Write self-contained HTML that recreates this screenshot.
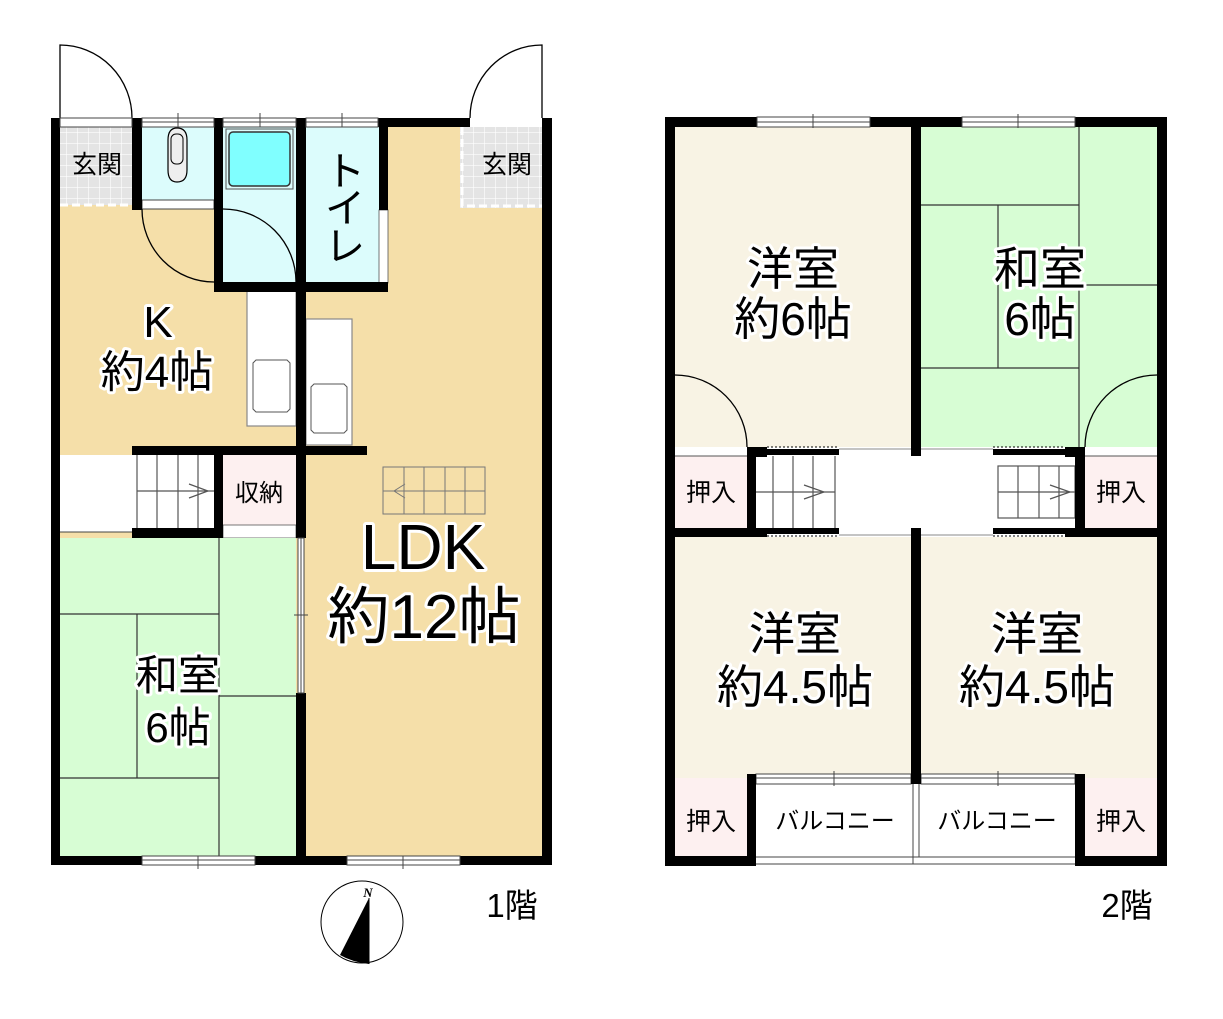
<!DOCTYPE html>
<html><head><meta charset="utf-8"><style>
html,body{margin:0;padding:0;background:#fff;}
svg{display:block;}
text{font-family:"Liberation Sans","Noto Sans CJK JP",sans-serif;fill:#000;text-anchor:middle;}
.h{paint-order:stroke;stroke:#fff;stroke-width:6px;stroke-linejoin:round;}
</style></head><body>
<svg width="1223" height="1019" viewBox="0 0 1223 1019" xmlns="http://www.w3.org/2000/svg">
<defs>
<pattern id="tile" width="11" height="11" patternUnits="userSpaceOnUse">
<rect width="11" height="11" fill="#e4e4e4"/><path d="M0 0H11M0 0V11" stroke="#fff" stroke-width="1.2"/>
</pattern>
</defs>

<!-- ============ 1F ============ -->
<rect x="60" y="127" width="482" height="729" fill="#f5dfa9"/>
<rect x="60" y="127" width="72" height="78" fill="url(#tile)"/>
<rect x="142" y="127" width="72" height="73" fill="#dcfcfc"/>
<rect x="142" y="200" width="72" height="9" fill="#fff" stroke="#444" stroke-width="1"/>
<rect x="223" y="127" width="73" height="155" fill="#dcfcfc"/>
<rect x="229" y="132" width="61" height="54" rx="4" fill="#80ffff" stroke="#333" stroke-width="1.5"/>
<rect x="226" y="129" width="67" height="60" fill="none" stroke="#555" stroke-width="1"/>
<rect x="306" y="127" width="73" height="155" fill="#dcfcfc"/>
<rect x="379" y="210" width="9" height="73" fill="#fff" stroke="#555" stroke-width="0.8"/>
<line x1="383" y1="130" x2="383" y2="208" stroke="#555" stroke-dasharray="2,2"/>
<rect x="460" y="127" width="82" height="81" fill="url(#tile)"/>
<path d="M462 127V206H542" fill="none" stroke="#fff" stroke-width="3" stroke-dasharray="8,4"/>
<path d="M60 205H132" stroke="#fff" stroke-width="3" stroke-dasharray="8,4"/>
<path d="M168 140Q168 128 177 128Q187 128 187 140V170Q187 182 177 182Q168 182 168 170Z" fill="#eee" stroke="#000" stroke-width="1.2"/>
<rect x="171" y="134" width="12" height="30" rx="5" fill="#eee" stroke="#000" stroke-width="1"/>
<!-- stairs left -->
<rect x="60" y="455" width="154" height="77" fill="#fff"/>
<line x1="60" y1="532" x2="132" y2="532" stroke="#444"/>
<g stroke="#555" stroke-width="1.2">
<line x1="157" y1="455" x2="157" y2="528"/><line x1="178" y1="455" x2="178" y2="528"/><line x1="198" y1="455" x2="198" y2="528"/>
<line x1="137" y1="455" x2="137" y2="528"/>
<line x1="137" y1="491" x2="214" y2="491"/>
<path d="M189 484L208 491L189 498" fill="none"/>
</g>
<rect x="223" y="455" width="73" height="70" fill="#fdf0f0"/>
<rect x="223" y="525" width="73" height="13" fill="#fff" stroke="#555" stroke-width="0.8"/>
<!-- washitsu 1F -->
<rect x="60" y="538" width="236" height="318" fill="#d7fdd4"/>
<g stroke="#333" stroke-width="1.2" fill="none">
<line x1="219" y1="538" x2="219" y2="856"/>
<line x1="60" y1="614" x2="219" y2="614"/>
<line x1="137" y1="614" x2="137" y2="778"/>
<line x1="60" y1="778" x2="219" y2="778"/>
<line x1="219" y1="696" x2="296" y2="696"/>
</g>
<!-- kitchen counters -->
<rect x="247" y="291" width="49" height="135" fill="#fff" stroke="#888" stroke-width="1.2"/>
<path d="M256 360H287L290 363V409L287 412H256L253 409V363Z" fill="#fff" stroke="#555"/>
<rect x="306" y="319" width="46" height="126" fill="#fff" stroke="#888" stroke-width="1.2"/>
<path d="M314 384H344L347 387V430L344 433H314L311 430V387Z" fill="#fff" stroke="#555"/>
<!-- LDK stairs -->
<g stroke="#777" stroke-width="1" fill="none">
<rect x="383" y="467" width="102" height="47"/>
<line x1="404" y1="467" x2="404" y2="514"/><line x1="424" y1="467" x2="424" y2="514"/><line x1="445" y1="467" x2="445" y2="514"/><line x1="465" y1="467" x2="465" y2="514"/>
<line x1="383" y1="491" x2="485" y2="491"/>
<path d="M405 484L394 491L405 498"/>
</g>
<g stroke="#000" stroke-width="1.3" fill="none">
<path d="M60 118V45A72 73 0 0 1 132 118"/>
<path d="M542 118V45A72 73 0 0 0 470 118"/>
<path d="M142 209A72 73 0 0 0 214 282"/>
<path d="M223 209A73 73 0 0 1 296 282"/>
</g>
<g fill="#000">
<rect x="51" y="118" width="9" height="747"/>
<rect x="542" y="118" width="10" height="747"/>
<rect x="51" y="856" width="501" height="9"/>
<rect x="132" y="118" width="10" height="92"/>
<rect x="214" y="118" width="9" height="173"/>
<rect x="296" y="118" width="10" height="420"/>
<rect x="296" y="693" width="10" height="172"/>
<rect x="378" y="118" width="92" height="9"/>
<rect x="379" y="118" width="9" height="92"/>
<rect x="214" y="282" width="174" height="10"/>
<rect x="132" y="446" width="235" height="9"/>
<rect x="214" y="455" width="9" height="83"/>
<rect x="132" y="528" width="91" height="10"/>
</g>
<g fill="#fff" stroke="#444" stroke-width="1">
<rect x="60" y="118" width="72" height="9"/>
<rect x="142" y="118" width="72" height="9"/><rect x="223" y="118" width="73" height="9"/><rect x="306" y="118" width="72" height="9"/>
<rect x="142" y="856" width="113" height="9"/><rect x="347" y="856" width="113" height="9"/>
<rect x="298" y="538" width="6" height="155"/>
</g>
<g stroke="#444" stroke-width="1">
<line x1="142" y1="122" x2="214" y2="122"/><line x1="223" y1="122" x2="296" y2="122"/><line x1="306" y1="122" x2="378" y2="122"/>
<line x1="178" y1="113" x2="178" y2="127"/><line x1="260" y1="113" x2="260" y2="127"/><line x1="342" y1="113" x2="342" y2="127"/>
<line x1="142" y1="860" x2="255" y2="860"/><line x1="347" y1="860" x2="460" y2="860"/>
<line x1="198" y1="856" x2="198" y2="869"/><line x1="403" y1="856" x2="403" y2="869"/>
<line x1="301" y1="538" x2="301" y2="693"/><line x1="294" y1="615" x2="308" y2="615"/>
</g>

<text x="97" y="173" font-size="25">玄関</text>
<text x="507" y="173" font-size="25">玄関</text>
<text x="345" y="185" font-size="40">ト</text>
<text x="345" y="222" font-size="40">イ</text>
<text x="345" y="260" font-size="40">レ</text>
<text class="h" x="158" y="337" font-size="44">K</text>
<text class="h" x="157" y="387" font-size="44">約4帖</text>
<text x="259" y="501" font-size="24">収納</text>
<text class="h" x="423" y="569" font-size="64">LDK</text>
<text class="h" x="424" y="638" font-size="62">約12帖</text>
<text class="h" x="178" y="690" font-size="42">和室</text>
<text class="h" x="178" y="742" font-size="42">6帖</text>
<text x="512" y="917" font-size="33">1階</text>

<circle cx="362" cy="922" r="41" fill="#fff" stroke="#000" stroke-width="1"/>
<path d="M369 898L340 955Q352 962 369 964Z" fill="#000"/>
<line x1="369" y1="898" x2="369" y2="964" stroke="#000"/>
<text x="368" y="897" font-size="13" font-style="italic" font-weight="bold" style="font-family:'Liberation Serif',serif">N</text>

<!-- ============ 2F ============ -->
<rect x="675" y="127" width="236" height="320" fill="#f8f3e4"/>
<rect x="921" y="127" width="236" height="320" fill="#d7fdd4"/>
<rect x="675" y="537" width="236" height="241" fill="#f8f3e4"/>
<rect x="921" y="537" width="236" height="241" fill="#f8f3e4"/>
<g stroke="#333" stroke-width="1.2">
<line x1="921" y1="205" x2="1079" y2="205"/>
<line x1="1079" y1="127" x2="1079" y2="447"/>
<line x1="998" y1="205" x2="998" y2="368"/>
<line x1="921" y1="368" x2="1079" y2="368"/>
<line x1="1079" y1="285" x2="1157" y2="285"/>
</g>
<rect x="675" y="447" width="482" height="90" fill="#fff"/>
<rect x="675" y="456" width="72" height="72" fill="#fdf0f0"/>
<rect x="1085" y="456" width="72" height="72" fill="#fdf0f0"/>
<line x1="675" y1="456" x2="747" y2="456" stroke="#555"/>
<line x1="1085" y1="456" x2="1157" y2="456" stroke="#555"/>
<g stroke="#555" stroke-width="1.2" fill="none">
<line x1="773" y1="456" x2="773" y2="528"/><line x1="793" y1="456" x2="793" y2="528"/><line x1="813" y1="456" x2="813" y2="528"/><line x1="835" y1="456" x2="835" y2="528"/>
<line x1="756" y1="492" x2="835" y2="492"/>
<path d="M804 485L824 492L804 499"/>
<rect x="998" y="466" width="77" height="52"/>
<line x1="1018" y1="466" x2="1018" y2="518"/><line x1="1039" y1="466" x2="1039" y2="518"/><line x1="1059" y1="466" x2="1059" y2="518"/>
<line x1="998" y1="492" x2="1075" y2="492"/>
<path d="M1050 485L1070 492L1050 499"/>
</g>
<g stroke="#888" stroke-width="1">
<line x1="839" y1="449" x2="911" y2="449"/><line x1="921" y1="449" x2="993" y2="449"/>
<line x1="839" y1="535" x2="911" y2="535"/><line x1="921" y1="535" x2="993" y2="535"/>
</g>
<g stroke="#000" stroke-width="1" stroke-dasharray="2,2">
<line x1="767" y1="447" x2="839" y2="447"/><line x1="993" y1="447" x2="1065" y2="447"/>
<line x1="767" y1="536" x2="839" y2="536"/><line x1="993" y1="536" x2="1065" y2="536"/>
</g>
<g stroke="#000" stroke-width="1.3" fill="none">
<path d="M675 375A72 72 0 0 1 747 447"/>
<path d="M1157 375A72 72 0 0 0 1085 447"/>
</g>
<rect x="675" y="778" width="72" height="78" fill="#fdf0f0"/>
<rect x="1085" y="778" width="72" height="78" fill="#fdf0f0"/>
<rect x="756" y="784" width="319" height="80" fill="#fff"/>
<g stroke="#444" stroke-width="1" fill="none">
<line x1="756" y1="857" x2="1075" y2="857"/><line x1="756" y1="864" x2="1075" y2="864"/>
<line x1="913" y1="784" x2="913" y2="864"/><line x1="919" y1="784" x2="919" y2="857"/>
<rect x="756" y="774" width="155" height="10" fill="#fff"/><rect x="921" y="774" width="154" height="10" fill="#fff"/>
<line x1="756" y1="778" x2="911" y2="778"/><line x1="921" y1="778" x2="1075" y2="778"/>
<line x1="834" y1="771" x2="834" y2="786"/><line x1="998" y1="771" x2="998" y2="786"/>
</g>
<g fill="#000">
<rect x="665" y="117" width="10" height="749"/>
<rect x="1157" y="117" width="10" height="749"/>
<rect x="665" y="117" width="502" height="10"/>
<rect x="911" y="117" width="10" height="339"/>
<rect x="911" y="528" width="10" height="256"/>
<rect x="747" y="447" width="20" height="10"/>
<rect x="767" y="449" width="72" height="6"/>
<rect x="993" y="449" width="72" height="6"/>
<rect x="1065" y="447" width="20" height="10"/>
<rect x="747" y="447" width="9" height="90"/>
<rect x="1075" y="447" width="10" height="90"/>
<rect x="665" y="528" width="102" height="9"/>
<rect x="767" y="528" width="72" height="6"/>
<rect x="993" y="528" width="72" height="6"/>
<rect x="1065" y="528" width="102" height="9"/>
<rect x="747" y="774" width="9" height="92"/>
<rect x="1075" y="774" width="10" height="92"/>
<rect x="665" y="856" width="91" height="10"/>
<rect x="1075" y="856" width="92" height="10"/>
</g>
<g fill="#fff" stroke="#444" stroke-width="1">
<rect x="757" y="117" width="113" height="10"/><rect x="962" y="117" width="113" height="10"/>
</g>
<g stroke="#444" stroke-width="1">
<line x1="757" y1="122" x2="870" y2="122"/><line x1="962" y1="122" x2="1075" y2="122"/>
<line x1="813" y1="114" x2="813" y2="128"/><line x1="1018" y1="114" x2="1018" y2="128"/>
</g>

<text class="h" x="793" y="285" font-size="46">洋室</text>
<text class="h" x="793" y="335" font-size="46">約6帖</text>
<text class="h" x="1040" y="285" font-size="46">和室</text>
<text class="h" x="1040" y="335" font-size="46">6帖</text>
<text class="h" x="795" y="650" font-size="46">洋室</text>
<text class="h" x="795" y="703" font-size="46">約4.5帖</text>
<text class="h" x="1037" y="650" font-size="46">洋室</text>
<text class="h" x="1037" y="703" font-size="46">約4.5帖</text>
<text x="711" y="501" font-size="25">押入</text>
<text x="1121" y="501" font-size="25">押入</text>
<text x="711" y="830" font-size="25">押入</text>
<text x="1121" y="830" font-size="25">押入</text>
<text x="835" y="829" font-size="24">バルコニー</text>
<text x="997" y="829" font-size="24">バルコニー</text>
<text x="1127" y="917" font-size="33">2階</text>
</svg>
</body></html>
